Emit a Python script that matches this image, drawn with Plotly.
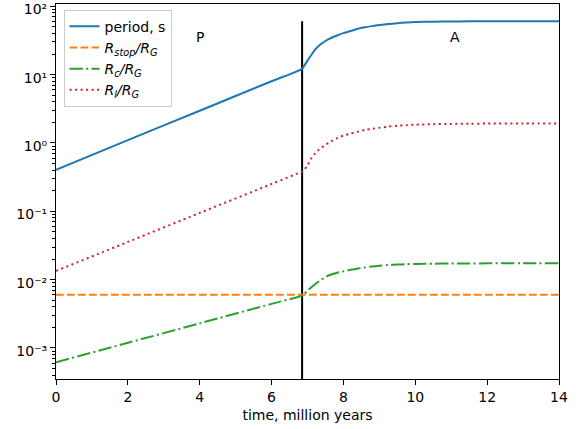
import math
import plotly.graph_objects as go

# ---- data ----
t_pre = [0.0, 2.0, 4.0, 6.0, 6.85]
t_post = [6.9, 7.0, 7.1, 7.2, 7.3, 7.4, 7.5, 7.6, 7.7, 7.8, 7.9, 8.0, 8.2, 8.4, 8.6,
          8.8, 9.0, 9.25, 9.5, 9.75, 10.0, 10.5, 11.0, 11.5, 12.0, 13.0, 14.0]
time = t_pre + t_post

period_pre = [0.405, 1.10, 2.96, 8.0, 12.2]
period_post = [13.3, 16.0, 19.2, 22.8, 26.0, 28.6, 31.0, 33.2, 35.2, 37.0, 38.8, 40.4,
               43.4, 46.8, 49.2, 51.2, 53.0, 55.0, 56.5, 57.7, 58.6, 59.5, 59.9, 60.1,
               60.2, 60.3, 60.4]
r_l_pre = [0.0134, 0.0356, 0.0946, 0.251, 0.383]
r_l_post = [0.40, 0.47, 0.59, 0.69, 0.78, 0.86, 0.94, 1.01, 1.09, 1.16, 1.22, 1.28,
            1.37, 1.46, 1.55, 1.61, 1.67, 1.73, 1.79, 1.82, 1.85, 1.88, 1.90, 1.91,
            1.92, 1.92, 1.92]
r_c_pre = [6.17e-4, 1.19e-3, 2.29e-3, 4.42e-3, 5.84e-3]
r_c_post = [6.1e-3, 6.9e-3, 7.7e-3, 8.5e-3, 9.3e-3, 0.0101, 0.0109, 0.0116, 0.0121,
            0.0125, 0.0129, 0.0132, 0.0139, 0.0145, 0.0151, 0.0156, 0.0160, 0.0164,
            0.0166, 0.0168, 0.0170, 0.0171, 0.0172, 0.0172, 0.0173, 0.0173, 0.0173]
period = period_pre + period_post
r_l = r_l_pre + r_l_post
r_c = r_c_pre + r_c_post

t_stop = [0.0, 14.0]
r_stop = [6.0e-3, 6.0e-3]

t_switch = 6.85
vline_y = [1e-4, 60.4]

labels = ["period, s",
          "<i>R<sub>stop</sub>/R<sub>G</sub></i>",
          "<i>R<sub>c</sub>/R<sub>G</sub></i>",
          "<i>R<sub>l</sub>/R<sub>G</sub></i>"]
phase_text = ["P", "A"]
phase_x = [4.0, 11.1]
phase_y = [35.0, 35.0]

xticks = [0, 2, 4, 6, 8, 10, 12, 14]
ydecades = [-4, -3, -2, -1, 0, 1, 2]
yticktext = ["10\u207b\u2074", "10\u207b\u00b3", "10\u207b\u00b2", "10\u207b\u00b9",
             "10\u2070", "10\u00b9", "10\u00b2"]
yticks = [10.0 ** d for d in ydecades]
yminor = [m * 10.0 ** d for d in ydecades for m in range(2, 10)]

FONT = "DejaVu Sans"
fig = go.Figure()

fig.add_trace(go.Scatter(x=[t_switch, t_switch], y=vline_y, mode="lines",
                         line=dict(color="black", width=2), showlegend=False,
                         hoverinfo="skip"))
fig.add_trace(go.Scatter(x=time, y=period, mode="lines", name=labels[0],
                         line=dict(color="#1f77b4", width=2, shape="spline",
                                   smoothing=0.8)))
fig.add_trace(go.Scatter(x=t_stop, y=r_stop, mode="lines", name=labels[1],
                         line=dict(color="#ff7f0e", width=2, dash="7.7px,3.3px")))
fig.add_trace(go.Scatter(x=time, y=r_c, mode="lines", name=labels[2],
                         line=dict(color="#2ca02c", width=2, shape="spline",
                                   smoothing=0.8,
                                   dash="13.3px,3.3px,2.1px,3.3px")))
fig.add_trace(go.Scatter(x=time, y=r_l, mode="lines", name=labels[3],
                         line=dict(color="#d62728", width=2, shape="spline",
                                   smoothing=0.8, dash="2.1px,3.4px")))

for txt, xx, yy in zip(phase_text, phase_x, phase_y):
    fig.add_annotation(x=xx, y=math.log10(yy), xref="x", yref="y", text=txt,
                       showarrow=False, font=dict(family=FONT, size=14, color="black"))

fig.update_layout(
    width=582, height=429,
    margin=dict(l=56, r=23, t=4, b=50, autoexpand=False),
    paper_bgcolor="white", plot_bgcolor="white",
    font=dict(family=FONT, size=14, color="black"),
    showlegend=True,
    legend=dict(x=0.015, y=0.985, xanchor="left", yanchor="top",
                bgcolor="white", bordercolor="#cccccc", borderwidth=1,
                font=dict(family=FONT, size=14), itemwidth=30,
                tracegroupgap=0),
)
fig.update_xaxes(range=[0, 14], tickmode="array", tickvals=xticks,
                 ticks="outside", ticklen=5, tickwidth=1, tickcolor="black",
                 showline=True, linecolor="black", linewidth=1, mirror=True,
                 showgrid=False, zeroline=False, automargin=False,
                 title=dict(text="time, million years", font=dict(size=14), standoff=6))
fig.update_yaxes(type="log", range=[-3.454, 2.033],
                 tickmode="array", tickvals=yticks, ticktext=yticktext,
                 ticklabeloverflow="allow", automargin=False,
                 tickfont=dict(size=14), ticklabelshift=3,
                 ticks="outside", ticklen=5, tickwidth=1, tickcolor="black",
                 minor=dict(tickmode="array", tickvals=yminor, ticks="outside",
                            ticklen=3, tickwidth=1, tickcolor="black", showgrid=False),
                 showline=True, linecolor="black", linewidth=1, mirror=True,
                 showgrid=False, zeroline=False)

fig.write_html("out.html")
